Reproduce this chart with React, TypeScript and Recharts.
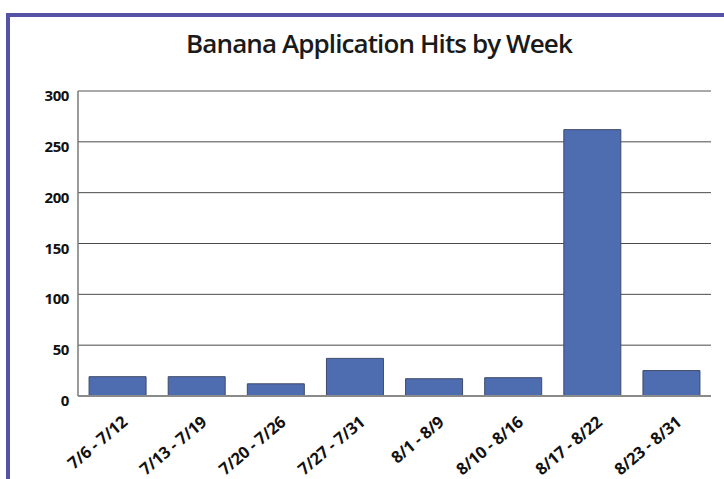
import { Bar, BarChart, CartesianGrid, ReferenceLine, XAxis, YAxis } from "recharts";

const WEEKS = [
  "7/6 - 7/12",
  "7/13 - 7/19",
  "7/20 - 7/26",
  "7/27 - 7/31",
  "8/1 - 8/9",
  "8/10 - 8/16",
  "8/17 - 8/22",
  "8/23 - 8/31",
];

const HITS = [19, 19, 12, 37, 17, 18, 262, 25];

const Y_TICKS = [0, 50, 100, 150, 200, 250, 300];

const FONT = '"Open Sans", "DejaVu Sans", sans-serif';
const FRAME = "#5553a8";

const rows = WEEKS.map((week, i) => ({ week, hits: HITS[i] }));

type TickProps = {
  x?: number;
  y?: number;
  payload?: { value: string | number };
};

// week labels are slanted, right end tucked just past the bar centre
function WeekTick({ x = 0, y = 0, payload }: TickProps) {
  const tx = x + 11;
  const ty = y + 20;
  return (
    <text
      x={tx}
      y={ty}
      transform={`rotate(-40, ${tx}, ${ty})`}
      textAnchor="end"
      fontFamily={FONT}
      fontWeight={700}
      fontSize={16.5}
      letterSpacing={-0.3}
      fill="#111"
    >
      {payload?.value}
    </text>
  );
}

function HitsTick({ x = 0, y = 0, payload }: TickProps) {
  return (
    <text
      x={x - 1}
      y={y + 10}
      textAnchor="end"
      fontFamily={FONT}
      fontWeight={700}
      fontSize={15}
      letterSpacing={-0.4}
      fill="#111"
    >
      {payload?.value}
    </text>
  );
}

export default function App() {
  return (
    <div
      style={{
        position: "absolute",
        left: 0,
        top: 0,
        width: 724,
        height: 479,
        background: "#fff",
        overflow: "hidden",
      }}
    >
      {/* blue frame: top and left edges only */}
      <div
        style={{
          position: "absolute",
          left: 6,
          top: 13,
          right: 0,
          bottom: 0,
          borderLeft: `4px solid ${FRAME}`,
          borderTop: `4px solid ${FRAME}`,
        }}
      />
      <div
        style={{
          position: "absolute",
          left: 0,
          top: 27,
          width: 758,
          textAlign: "center",
          fontFamily: FONT,
          fontSize: 26,
          fontWeight: 600,
          letterSpacing: -0.9,
          color: "#1a1a1a",
          lineHeight: "32px",
        }}
      >
        Banana Application Hits by Week
      </div>
      <div style={{ position: "absolute", left: 0, top: 0 }}>
        <BarChart
          width={724}
          height={479}
          data={rows}
          margin={{ top: 91, right: 13, bottom: 0, left: 20 }}
          barCategoryGap="14%"
        >
          <CartesianGrid vertical={false} stroke="#4a4a4a" strokeWidth={1} />
          <XAxis
            dataKey="week"
            interval={0}
            tickLine={false}
            axisLine={{ stroke: "#8a8a8a", strokeWidth: 2 }}
            tick={<WeekTick />}
            height={83}
          />
          <YAxis
            width={58}
            domain={[0, 300]}
            ticks={Y_TICKS}
            interval={0}
            tickLine={false}
            axisLine={{ stroke: "#7a7a7a", strokeWidth: 1.5 }}
            tick={<HitsTick />}
          />
          <ReferenceLine y={300} stroke="#a9a9a9" strokeWidth={2} />
          <Bar
            dataKey="hits"
            fill="#4e6cb0"
            stroke="#3f4a6a"
            strokeWidth={1}
            isAnimationActive={false}
          />
        </BarChart>
      </div>
    </div>
  );
}
